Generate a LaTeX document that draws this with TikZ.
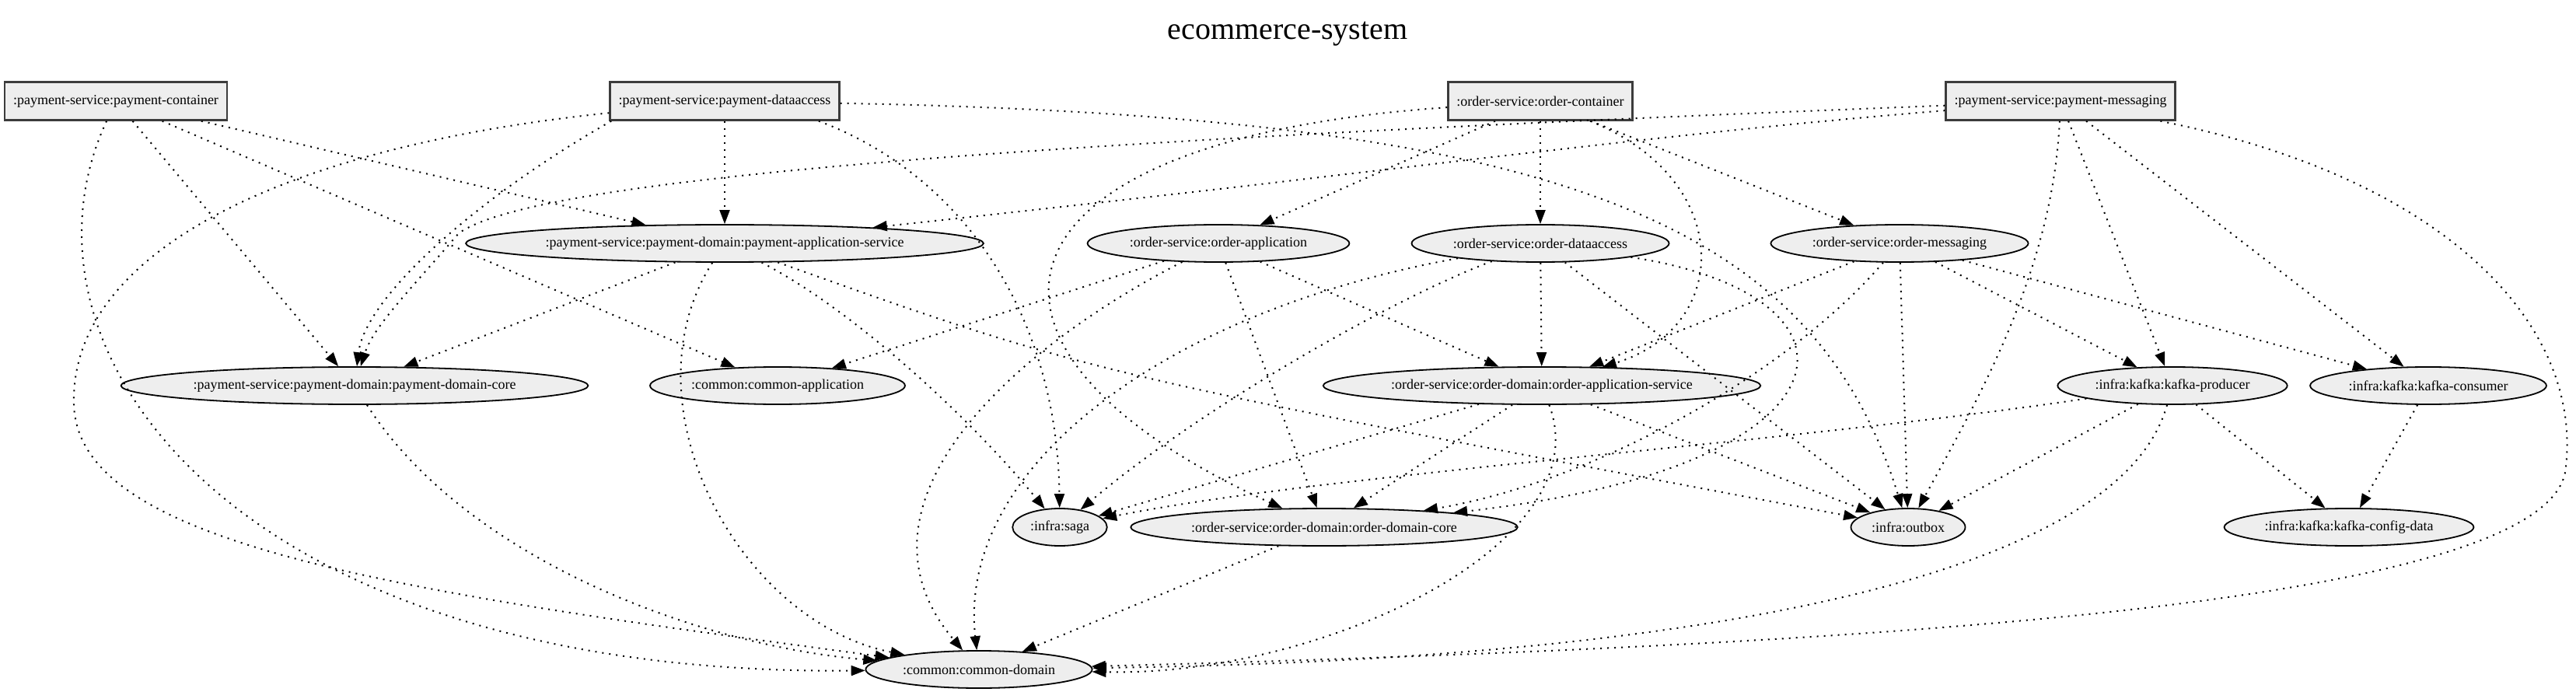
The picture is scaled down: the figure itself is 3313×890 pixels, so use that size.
\documentclass[tikz,border=0pt]{standalone}
\usepackage{fontspec}
\setmainfont{Liberation Serif}
\usetikzlibrary{shapes.geometric,arrows.meta}

\definecolor{modfill}{HTML}{EEEEEE}
\definecolor{modline}{HTML}{3C3C3C}
\newcommand{\modfont}{\fontsize{18}{20}\selectfont}

\begin{document}
\begin{tikzpicture}[x=1pt,y=-1pt,
    module/.style={ellipse, draw=black, line width=1.8pt, fill=modfill,
        inner xsep=5pt, inner ysep=0pt, minimum height=48pt, font=\modfont},
    rootmodule/.style={rectangle, draw=modline, line width=2.4pt, fill=modfill,
        inner xsep=11pt, inner ysep=0pt, minimum height=49pt, font=\modfont},
    dep/.style={line width=2pt, dash pattern=on 2pt off 7pt,
        -{Triangle[length=18pt,width=13pt]}}]
    \useasboundingbox (0,0) rectangle (3313,890);

    % Title:
    \node (title) at (1656,44) {\fontsize{40}{44}\selectfont ecommerce-system};

    % Modules:
    % The top row are the boxes, all the others are ellipses
    \node[rootmodule] (pc)  at (149,130)  {:payment-service:payment-container};
    \node[rootmodule] (pda) at (932,130)  {:payment-service:payment-dataaccess};
    \node[rootmodule] (oc)  at (1981,130) {:order-service:order-container};
    \node[rootmodule] (pm)  at (2650,130) {:payment-service:payment-messaging};

    \node[module] (pas) at (932,313)  {:payment-service:payment-domain:payment-application-service};
    \node[module] (oa)  at (1567,313) {:order-service:order-application};
    \node[module] (oda) at (1981,313) {:order-service:order-dataaccess};
    \node[module] (om)  at (2443,313) {:order-service:order-messaging};

    \node[module] (pdc) at (456,496)  {:payment-service:payment-domain:payment-domain-core};
    \node[module] (ca)  at (1000,496) {:common:common-application};
    \node[module] (oas) at (1983,496) {:order-service:order-domain:order-application-service};
    \node[module] (kp)  at (2794,496) {:infra:kafka:kafka-producer};
    \node[module] (kc)  at (3123,496) {:infra:kafka:kafka-consumer};

    \node[module] (saga)   at (1363,678) {:infra:saga};
    \node[module] (odc)    at (1703,678) {:order-service:order-domain:order-domain-core};
    \node[module] (outbox) at (2454,678) {:infra:outbox};
    \node[module] (kcd)    at (3021,678) {:infra:kafka:kafka-config-data};

    \node[module] (cd) at (1259,861) {:common:common-domain};

    % Dependencies:
    % payment-container
    \draw[dep] (pc) -- (pas);
    \draw[dep] (pc) -- (pdc);
    \draw[dep] (pc) -- (ca);
    \draw[dep] (pc) .. controls (0,450) and (300,870) .. (cd);

    % payment-dataaccess
    \draw[dep] (pda) -- (pas);
    \draw[dep] (pda.190) .. controls (620,250) and (470,380) .. (pdc);
    \draw[dep] (pda) .. controls (350,190) and (90,330) .. (95,520)
                     .. controls (100,700) and (500,760) .. (cd);
    \draw[dep] (pda.-12) .. controls (1250,230) and (1360,420) .. (saga);
    \draw[dep] (pda) .. controls (2000,150) and (2330,280) .. (outbox);

    % payment-messaging
    \draw[dep] (pm) .. controls (2100,175) and (1800,220) .. (pas);
    \draw[dep] (pm) .. controls (1500,175) and (700,220) .. (590,300)
                    .. controls (530,370) and (480,420) .. (pdc);
    \draw[dep] (pm) -- (kp);
    \draw[dep] (pm) -- (kc);
    \draw[dep] (pm) .. controls (2640,350) and (2540,520) .. (outbox);
    \draw[dep] (pm) .. controls (3150,230) and (3320,420) .. (3300,600)
                    .. controls (3290,780) and (2400,830) .. (cd);

    % order-container
    \draw[dep] (oc) -- (oa);
    \draw[dep] (oc) -- (oda);
    \draw[dep] (oc) -- (om);
    \draw[dep] (oc) .. controls (2230,230) and (2230,420) .. (oas);
    \draw[dep] (oc) .. controls (1250,180) and (1200,450) .. (odc);

    % payment-application-service
    \draw[dep] (pas) -- (pdc);
    \draw[dep] (pas) .. controls (800,520) and (950,800) .. (cd);
    \draw[dep] (pas) .. controls (1100,400) and (1250,540) .. (saga);
    \draw[dep] (pas) .. controls (1400,480) .. (outbox);

    % order-application
    \draw[dep] (oa) -- (ca);
    \draw[dep] (oa) .. controls (1300,450) and (1080,650) .. (cd);
    \draw[dep] (oa) -- (odc);
    \draw[dep] (oa) -- (oas);

    % order-dataaccess
    \draw[dep] (oda) -- (oas);
    \draw[dep] (oda) -- (outbox);
    \draw[dep] (oda) .. controls (1800,380) and (1550,520) .. (saga);
    \draw[dep] (oda) .. controls (1500,400) and (1230,600) .. (cd);
    \draw[dep] (oda) .. controls (2420,380) and (2400,600) .. (odc);

    % order-messaging
    \draw[dep] (om) -- (oas);
    \draw[dep] (om) -- (kp);
    \draw[dep] (om) -- (kc);
    \draw[dep] (om) -- (outbox);
    \draw[dep] (om) .. controls (2300,480) and (2050,620) .. (odc);

    % order-application-service
    \draw[dep] (oas) -- (saga);
    \draw[dep] (oas) -- (odc);
    \draw[dep] (oas) -- (outbox);
    \draw[dep] (oas) .. controls (2060,700) and (1700,870) .. (cd);

    % kafka
    \draw[dep] (kp) -- (kcd);
    \draw[dep] (kp) -- (outbox);
    \draw[dep] (kp) .. controls (2300,570) and (1700,610) .. (saga);
    \draw[dep] (kp) .. controls (2720,760) and (2100,850) .. (cd);
    \draw[dep] (kc) -- (kcd);

    % domain cores
    \draw[dep] (pdc) .. controls (600,720) and (900,830) .. (cd);
    \draw[dep] (odc) -- (cd);
\end{tikzpicture}
\end{document}
